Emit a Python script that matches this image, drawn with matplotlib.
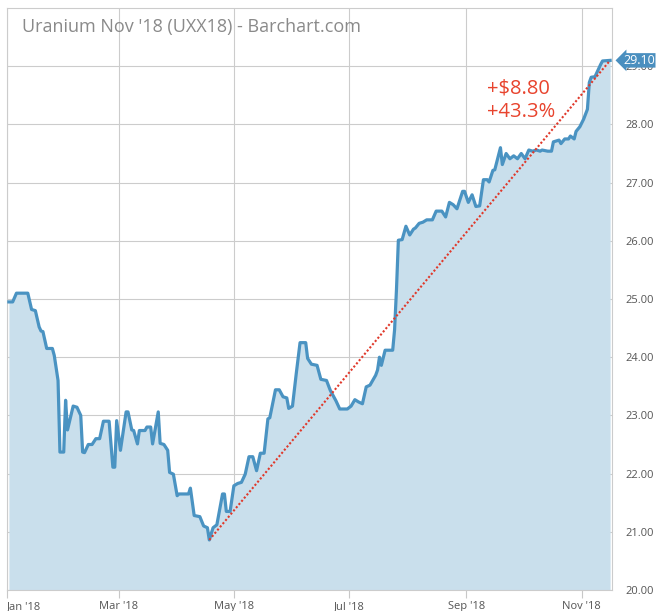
import numpy as np
import matplotlib.pyplot as plt
import matplotlib.dates as mdates

plt.rcParams['font.family'] = ['Open Sans', 'DejaVu Sans']

# days since 2018-01-01 and settlement prices
days = [1, 3, 5, 11, 13, 15, 17, 18, 19, 21, 24, 25, 27, 28, 30, 31, 32, 35, 37, 39,
        40, 41, 43, 45, 47, 49, 51, 54, 56, 57, 58, 60, 63, 64, 66, 67, 69, 70, 73, 74,
        76, 77, 80, 81, 83, 85, 86, 88, 90, 91, 96, 97, 99, 102, 104, 106, 107, 109, 111, 114,
        115, 116, 118, 120, 122, 124, 126, 128, 130, 132, 134, 136, 138, 139, 142, 144, 146, 148, 149, 151,
        153, 155, 158, 159, 161, 164, 166, 169, 171, 174, 176, 180, 182, 184, 186, 188, 190, 192, 195, 196,
        197, 198, 200, 204, 205, 206, 207, 209, 211, 213, 215, 216, 218, 220, 222, 225, 227, 230, 232, 234,
        236, 238, 241, 242, 244, 246, 248, 250, 252, 254, 255, 257, 258, 261, 262, 264, 266, 268, 270, 272,
        274, 276, 278, 280, 282, 283, 286, 288, 289, 292, 293, 295, 297, 298, 300, 301, 303, 305, 307, 308,
        309, 311, 312, 314, 315, 319]
prices = [24.95, 24.95, 25.10, 25.10, 24.82, 24.80, 24.52, 24.45, 24.44, 24.15, 24.15, 24.03, 23.60, 22.37, 22.37, 23.26, 22.75, 23.16, 23.14, 23.00,
          22.37, 22.36, 22.50, 22.50, 22.60, 22.60, 22.90, 22.90, 22.11, 22.11, 22.91, 22.40, 23.06, 23.06, 22.75, 22.74, 22.51, 22.74, 22.74, 22.80,
          22.80, 22.51, 23.06, 22.52, 22.50, 22.40, 22.02, 21.99, 21.62, 21.65, 21.65, 21.75, 21.28, 21.26, 21.10, 21.07, 20.86, 21.07, 21.12, 21.65,
          21.65, 21.35, 21.35, 21.79, 21.83, 21.85, 21.99, 22.29, 22.29, 22.05, 22.35, 22.35, 22.94, 22.96, 23.44, 23.44, 23.32, 23.30, 23.12, 23.16,
          23.72, 24.25, 24.25, 23.98, 23.88, 23.86, 23.62, 23.60, 23.43, 23.25, 23.11, 23.11, 23.16, 23.27, 23.23, 23.20, 23.49, 23.52, 23.69, 23.78,
          24.00, 23.86, 24.12, 24.12, 24.47, 25.16, 26.01, 26.02, 26.25, 26.10, 26.20, 26.22, 26.30, 26.32, 26.36, 26.36, 26.51, 26.51, 26.41, 26.66,
          26.62, 26.55, 26.85, 26.85, 26.66, 26.79, 26.59, 26.60, 27.05, 27.05, 27.01, 27.21, 27.22, 27.60, 27.31, 27.50, 27.41, 27.46, 27.41, 27.50,
          27.41, 27.56, 27.54, 27.56, 27.54, 27.56, 27.54, 27.54, 27.70, 27.73, 27.67, 27.75, 27.75, 27.80, 27.75, 27.88, 27.96, 28.09, 28.26, 28.72,
          28.81, 28.82, 28.89, 29.03, 29.09, 29.10]
change_label = '+$8.80\n+43.3%'
last_label = '29.10'
title = "Uranium Nov '18 (UXX18) - Barchart.com"

dates = np.datetime64('2018-01-01') + np.array(days).astype('timedelta64[D]')
prices = np.array(prices)

fig = plt.figure(figsize=(6.62, 6.11), dpi=100)
ax = fig.add_axes([7 / 662, 1 - 590 / 611, 605 / 662, 582 / 611])

ax.fill_between(dates, prices, 20, color='#c9dfec', lw=0, zorder=1)
ax.plot(dates, prices, color='#4a93c2', lw=2.3, solid_joinstyle='round', zorder=3)

# dotted line from the low to the last price
i = prices.argmin()
ax.plot([dates[i], dates[-1]], [prices[i], prices[-1]], color='#e0392b',
        lw=1.5, ls=(0, (1.0, 1.0)), zorder=4)

ax.text(dates[0] + np.timedelta64(253, 'D'), 28.42, change_label, color='#e8442e',
        fontsize=14.5, va='center', ha='left', linespacing=1.25, zorder=5)

ax.set_xlim(np.datetime64('2018-01-01'), np.datetime64('2018-01-01') + np.timedelta64(320, 'D'))
ax.set_ylim(20, 30)

ax.xaxis.set_major_locator(mdates.MonthLocator(bymonth=[1, 3, 5, 7, 9, 11]))
ax.xaxis.set_major_formatter(mdates.DateFormatter("%b '%y"))
ax.set_yticks(np.arange(20, 30))
ax.yaxis.set_major_formatter(plt.FuncFormatter(lambda v, p: '%.2f' % v))
ax.yaxis.tick_right()
ax.tick_params(axis='y', length=0, pad=10, labelsize=8, labelcolor='#555555')
ax.tick_params(axis='x', length=6, width=0.8, color='#c8c8c8', pad=2,
               labelsize=8, labelcolor='#555555')
for lab in ax.get_yticklabels():
    lab.set_horizontalalignment('left')
fig.canvas.draw()
ax.get_xticklabels()[0].set_horizontalalignment('left')

ax.grid(True, color='#cccccc', lw=0.8, zorder=0)
ax.set_axisbelow(True)
for s in ax.spines.values():
    s.set_color('#cccccc')
    s.set_linewidth(0.8)

ax.text(1.0 + 11 / 605, prices[-1], last_label, transform=ax.get_yaxis_transform(),
        color='white', fontsize=9, va='center', ha='left', zorder=6, clip_on=False,
        bbox=dict(boxstyle='larrow,pad=0.06', fc='#4a8fbf', ec='none'))

fig.text(22 / 662, 1 - 27 / 611, title, color='#8a8a8a', fontsize=13, va='center', ha='left')

fig.savefig('out.png', dpi=100)
